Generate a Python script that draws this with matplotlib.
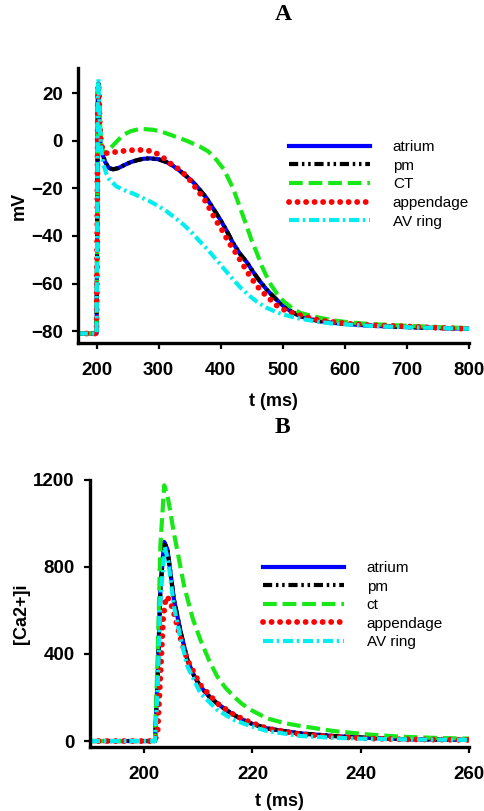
import matplotlib
matplotlib.use("Agg")
import matplotlib.pyplot as plt

# ---- Panel A: membrane potential (mV) vs time (ms) ----
t_atrium = [170, 200, 201, 202, 203, 204, 206, 208, 210, 214, 220, 227, 235, 245, 255, 265, 275,
            286, 300, 313, 323, 335, 345, 356, 366, 377, 388, 399, 410, 420, 431, 442, 452, 463,
            474, 485, 501, 515, 528, 545, 560, 580, 603, 640, 689, 740, 796, 800]
v_atrium = [-81, -81, -40, 20, 24, 15, 0, -4, -6, -9, -11.5, -12, -11.5, -10.2, -9, -8.2, -7.6,
            -7.4, -7.8, -9, -10.5, -12.8, -15, -17.5, -20.5, -24, -28.5, -33, -38, -43, -47.5, -51,
            -55, -59, -62.5, -65.5, -69.5, -72, -73.7, -75, -75.8, -76.5, -77, -77.7, -78.2, -78.6,
            -79, -79]

t_pm = t_atrium
v_pm = [-81, -81, -40, 20, 24, 15, 0, -4, -6, -9, -11.5, -12, -11.5, -10.2, -9, -8.2, -7.6,
        -7.4, -7.8, -9, -10.5, -12.8, -15, -17.5, -20.5, -24, -28.5, -33, -38, -43, -47.5, -51,
        -55, -59, -62.5, -65.5, -69.5, -72, -73.7, -75, -75.8, -76.5, -77, -77.7, -78.2, -78.6,
        -79, -79]

t_ct = [170, 200, 201, 202, 203, 204, 206, 208, 211, 215, 221, 230, 243, 255, 270, 291, 305, 323,
        345, 366, 380, 393, 405, 420, 431, 442, 450, 458, 466, 474, 482, 490, 501, 515, 528, 545,
        560, 580, 603, 640, 689, 740, 796, 800]
v_ct = [-81, -81, -40, 20, 25, 18, 5, -2, -5, -5, -3.5, -1, 2.5, 4, 5, 4.6, 3.8, 2.1, 0, -2.4,
        -4.5, -8, -12, -20, -28, -36, -42, -47, -52.5, -57, -61, -64, -67.4, -70.3, -72.3, -73.5,
        -74.4, -75.4, -76.2, -77, -77.6, -78.2, -78.7, -78.8]

t_app = [170, 200, 201, 202, 203, 204, 205, 207, 210, 214, 221, 235, 248, 264, 278, 291, 305, 318,
         334, 348, 358, 369, 377, 385, 393, 401, 409, 417, 426, 434, 442, 452, 463, 477, 490, 506,
         533, 560, 603, 640, 689, 740, 796, 800]
v_app = [-81, -81, -40, 18, 24, 20, 8, 0, -4, -5.2, -5.2, -4.5, -4.2, -3.8, -4, -4.5, -6.6, -9.4,
         -12.2, -15.7, -19.2, -23, -26, -30, -33.8, -37, -40.8, -44.3, -47.8, -51.3, -54.8, -58.7,
         -62.5, -66, -69.2, -71.6, -73.7, -75.5, -76.8, -77.5, -77.9, -78.5, -79, -79]

t_av = [170, 200, 201, 202, 203, 204, 206, 208, 211, 216, 221, 232, 245, 259, 272, 286, 300, 313,
        326, 340, 353, 366, 380, 393, 406, 420, 433, 447, 460, 474, 488, 501, 515, 528, 545, 560,
        580, 603, 640, 689, 740, 796, 800]
v_av = [-81, -81, -40, 20, 26, 18, 3, -5, -10, -14, -16.4, -19.2, -20.8, -22.2, -23.8, -25.5,
        -27.5, -29.7, -32.3, -35.2, -38.5, -42.2, -46, -50, -54, -58.3, -62, -65.3, -68, -70.2,
        -71.8, -73, -74, -74.8, -75.5, -76.2, -76.8, -77.2, -77.8, -78.3, -78.6, -79, -79]

labels_a = ["atrium", "pm", "CT", "appendage", "AV ring"]
xticks_a = [200, 300, 400, 500, 600, 700, 800]
yticks_a = [-80, -60, -40, -20, 0, 20]

# ---- Panel B: intracellular calcium vs time (ms) ----
tc_atrium = [190, 202, 202.5, 203, 203.7, 204.3, 205.5, 206.8, 208, 209.2, 210.4, 212, 213.5, 215,
             216.6, 218, 219.7, 222.7, 226, 228.9, 235, 241, 247.3, 253, 260]
ca_atrium = [0, 0, 300, 700, 915, 880, 650, 495, 372, 300, 250, 205, 173, 145, 120, 100, 81, 58,
             45, 35, 23, 15, 9, 7, 5]

tc_pm = tc_atrium
ca_pm = [0, 0, 300, 700, 915, 880, 650, 495, 372, 300, 250, 205, 173, 145, 120, 100, 81, 58,
         45, 35, 23, 15, 9, 7, 5]

tc_ct = [190, 202, 202.5, 203, 203.7, 204.3, 205.5, 207.4, 209, 210.4, 212, 213.5, 215, 216.6,
         218, 219.7, 222.7, 226, 228.9, 235, 241, 247.3, 253, 260]
ca_ct = [0, 0, 400, 900, 1175, 1130, 955, 710, 560, 464, 370, 296, 245, 204, 172, 143, 104, 82,
         69, 46, 31, 20, 15, 11]

tc_app = [190, 202, 202.5, 203, 203.5, 204, 204.7, 205.5, 206.8, 208, 210.4, 213.5, 216.6, 219.7,
          222.7, 228.9, 235, 241, 247.3, 260]
ca_app = [0, 0, 50, 300, 560, 663, 650, 587, 464, 372, 257, 173, 120, 85, 58, 31, 20, 12, 8, 5]

tc_av = [190, 202, 202.5, 203, 203.8, 204.5, 205.5, 206.8, 208, 210.4, 213.5, 216.6, 219.7, 222.7,
         228.9, 235, 241, 247.3, 260]
ca_av = [0, 0, 250, 650, 893, 820, 618, 464, 342, 219, 143, 97, 68, 46, 23, 15, 10, 8, 5]

labels_b = ["atrium", "pm", "ct", "appendage", "AV ring"]
xticks_b = [200, 220, 240, 260]
yticks_b = [0, 400, 800, 1200]

# ---- styling ----
plt.rcParams["font.family"] = ["Liberation Sans", "DejaVu Sans"]

styles = [
    dict(color="#0000ff", lw=3.0, ls="-"),
    dict(color="#000000", lw=3.0, ls=(0, (2.2, 0.9, 0.6, 0.9, 0.6, 0.9))),
    dict(color="#18e818", lw=3.0, ls=(0, (3.3, 1.4))),
    dict(color="#ff0000", lw=4.2, ls=(0, (0.01, 1.45)), dash_capstyle="round"),
    dict(color="#00eeee", lw=3.0, ls=(0, (2.4, 0.9, 0.6, 0.9))),
]

fig = plt.figure(figsize=(4.84, 8.11), dpi=100)

ax_a = fig.add_axes([0.161, 0.577, 0.808, 0.339])
ax_b = fig.add_axes([0.186, 0.0793, 0.783, 0.329])

series_a = [(t_atrium, v_atrium), (t_pm, v_pm), (t_ct, v_ct), (t_app, v_app), (t_av, v_av)]
series_b = [(tc_atrium, ca_atrium), (tc_pm, ca_pm), (tc_ct, ca_ct), (tc_app, ca_app), (tc_av, ca_av)]

for (tx, ty), lab, st in zip(series_a, labels_a, styles):
    ax_a.plot(tx, ty, label=lab, **st)
for (tx, ty), lab, st in zip(series_b, labels_b, styles):
    ax_b.plot(tx, ty, label=lab, **st)

ax_a.set_xlim(170, 800)
ax_a.set_ylim(-85, 30.5)
ax_a.set_xticks(xticks_a)
ax_a.set_yticks(yticks_a)
ax_a.set_xlabel("t (ms)", fontsize=13, fontweight="bold", labelpad=10)
ax_a.set_ylabel("mV", fontsize=13, fontweight="bold", labelpad=2)

ax_b.set_xlim(190, 260)
ax_b.set_ylim(-26, 1200)
ax_b.set_xticks(xticks_b)
ax_b.set_yticks(yticks_b)
ax_b.set_xlabel("t (ms)", fontsize=13, fontweight="bold", labelpad=7)
ax_b.set_ylabel("[Ca2+]i", fontsize=13, fontweight="bold", labelpad=2)

for ax in (ax_a, ax_b):
    for side in ("top", "right"):
        ax.spines[side].set_visible(False)
    for side in ("left", "bottom"):
        ax.spines[side].set_linewidth(2.4)
    ax.tick_params(axis="both", direction="out", length=4, width=1.6, labelsize=13.5)
    ax.tick_params(axis="x", pad=10)
    ax.tick_params(axis="y", pad=7)
    for lbl in ax.get_xticklabels() + ax.get_yticklabels():
        lbl.set_fontweight("bold")

leg_kw = dict(frameon=False, fontsize=11, handlelength=5.3, handletextpad=1.5,
              labelspacing=0.3, borderaxespad=0, loc="upper left")
ax_a.legend(bbox_to_anchor=(0.524, 0.76), **leg_kw)
ax_b.legend(bbox_to_anchor=(0.44, 0.719), **leg_kw)

fig.text(0.585, 0.982, "A", ha="center", va="center", fontsize=17, fontweight="bold",
         family=["Liberation Serif", "DejaVu Serif"])
fig.text(0.583, 0.473, "B", ha="center", va="center", fontsize=17, fontweight="bold",
         family=["Liberation Serif", "DejaVu Serif"])

fig.savefig("out.png", dpi=100)
